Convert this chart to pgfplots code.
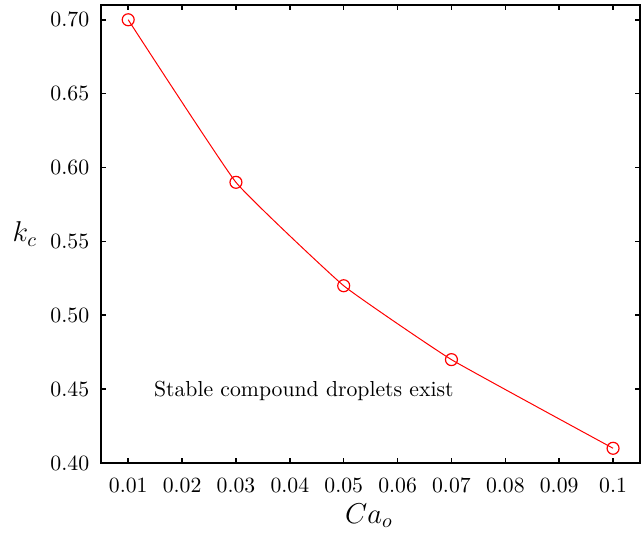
\documentclass[border=0pt]{standalone}
\usepackage{pgfplots}
\pgfplotsset{compat=1.18}

\begin{document}
\begin{tikzpicture}[font=\fontsize{10.9}{13}\selectfont]
\begin{axis}[
  scale only axis,
  width=270.5pt, height=230pt,
  at={(0,0)}, anchor=south west,
  xmin=0.005, xmax=0.105,
  ymin=0.40, ymax=0.71,
  xtick={0.01,0.02,...,0.1},
  xticklabels={0.01,0.02,0.03,0.04,0.05,0.06,0.07,0.08,0.09,0.1},
  ytick={0.40,0.45,...,0.70},
  ticklabel style={font=\fontsize{10.9}{13}\selectfont},
  yticklabel style={/pgf/number format/fixed,
                    /pgf/number format/fixed zerofill,
                    /pgf/number format/precision=2,
                    xshift=-2.5pt},
  tick align=inside,
  tick pos=both,
  major tick length=2.5pt,
  tick style={black, line width=0.8pt},
  axis line style={line width=1pt},
  xticklabel style={yshift=-4pt},
  xlabel={$Ca_o$},
  ylabel={$k_c$},
  label style={font=\fontsize{14}{16}\selectfont},
  xlabel style={at={(axis description cs:0.497,-0.115)}, anchor=center},
  ylabel style={at={(axis description cs:-0.142,0.5)}, anchor=center, rotate=-90},
  clip=false,
]
\addplot[red, line width=0.5pt, smooth, tension=0.2,
  mark=o, mark size=3pt, mark options={line width=0.6pt}]
  coordinates {
    (0.01,0.70)
    (0.03,0.59)
    (0.05,0.52)
    (0.07,0.47)
    (0.10,0.41)
  };
\node at (axis cs:0.0426,0.4485) {Stable compound droplets exist};
\end{axis}
\path[use as bounding box] (-50.85pt,-36.5pt) rectangle (269.65pt,232.5pt);
\end{tikzpicture}
\end{document}
